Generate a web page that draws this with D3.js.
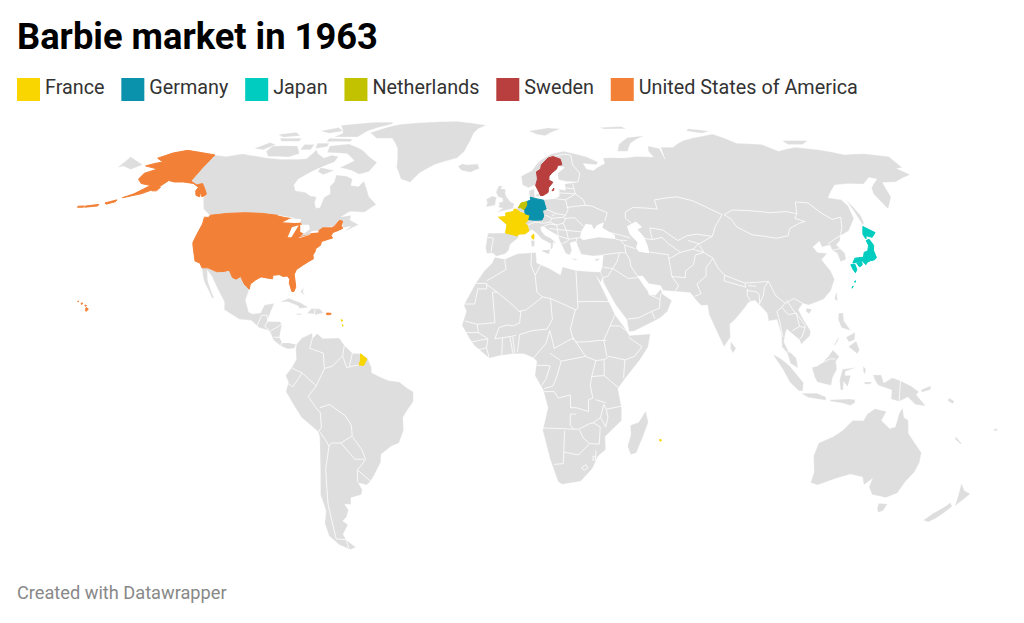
<!DOCTYPE html>
<html><head><meta charset="utf-8">
<style>html,body{margin:0;padding:0;background:#fff}svg{display:block}text{font-family:Roboto,sans-serif}</style>
<script src="https://cdn.jsdelivr.net/npm/d3@7"></script></head><body>
<svg id="c" width="1024" height="623"></svg>
<script>
const titleText="Barbie market in 1963";
const footerText="Created with Datawrapper";
const legendNames=["France","Germany","Japan","Netherlands","Sweden","United States of America"];
const legendColors=["#f9d600","#0a91ab","#00ccbf","#c2c200","#b93e3e","#f28036"];

// Grey land, [lon,lat] rings
const canada=[[-141,69.6],[-135,69],[-128,70],[-124,69.5],[-115,68.5],[-108,68],[-100,68],[-96,68.2],[-94,71.5],[-92,70],[-88,68.5],[-85,69.5],[-81.5,69],[-82,67],[-87,65],[-90,63.5],[-94,61],[-94.5,59],[-92.5,57],[-88,56.5],[-85,55.3],[-82.3,55],[-82,53],[-80.5,51.3],[-79,51.5],[-79,53],[-79,54.8],[-77,56],[-78.5,58.5],[-77.5,60],[-78,62.4],[-73,62],[-70,61],[-69.5,58.8],[-66,58.5],[-64.5,60.3],[-62,57.5],[-60,55],[-56,52.5],[-60,50],[-66,50.2],[-69,48.5],[-65,49],[-65,47.5],[-61,46],[-64,44.7],[-66,43.7],[-64,45.5],[-67,45],[-67.8,47],[-69.2,47.4],[-70.5,45.5],[-75,45],[-76.5,44],[-79,43.3],[-79,42.8],[-83,42],[-82.5,45.3],[-84.5,46.5],[-88.5,48.2],[-95,49],[-123,49],[-127,51],[-130,54.5],[-130,56],[-135,59.5],[-137,59],[-141,60.3]];
const arcticIslands=[
[[-80,73.7],[-72,71.5],[-67,69],[-62,66.8],[-64,63.5],[-68,62.7],[-72,64],[-78,65],[-73,67.5],[-78,70],[-88,70.5],[-89,73]],
[[-105,73],[-117,73],[-118,71],[-115,69],[-105,68.8],[-101,70]],
[[-125,72],[-120,74.3],[-116,73.5],[-120,71.5]],
[[-90,76.5],[-78,76.5],[-75,79],[-65,82],[-65,83],[-75,83],[-92,81.5],[-87,78]],
[[-92,76],[-80,75.7],[-80,74.6],[-92,74.6]],
[[-117,76],[-106,76],[-106,74.8],[-115,74.8]],
[[-96,74],[-90,74],[-90,72.7],[-95,72]],
[[-87,65],[-80,64],[-84,62.5],[-87,63.5]],
[[-102,73.5],[-97,73.5],[-97,71.5],[-102,71.5]],
[[-100,79],[-92,80.5],[-88,79],[-94,78]],
[[-120,77.5],[-112,78.5],[-108,77],[-116,76.4]]];
const greenland=[[-73,78.2],[-68,76],[-60,76],[-55,72],[-53,68],[-52,65],[-48.5,61],[-44,59.9],[-41,63],[-35,66],[-25,68.5],[-22,71],[-20,75],[-19,78],[-17,80],[-13,81.5],[-30,83.5],[-40,83.3],[-60,82],[-65,81],[-68,80]];
const mexicoCentral=[[-117.1,32.5],[-114.8,32.5],[-111,31.3],[-108.2,31.4],[-106.5,31.8],[-104.5,29.5],[-103,29],[-101.5,29.8],[-99.5,27.5],[-97.2,25.9],[-97.8,22.5],[-95.9,18.8],[-94.5,18.2],[-91.5,18.5],[-90.5,21],[-87,21.5],[-88,18.5],[-88.7,15.9],[-84,15.8],[-83.2,15],[-83.7,11],[-82.5,9.2],[-80,9.2],[-77.4,8.7],[-78,7.5],[-80.4,7.3],[-83,8.2],[-85.7,10],[-87.5,13],[-91.5,14],[-94.5,16.2],[-99,16.6],[-105,19.5],[-105.5,22],[-109,26],[-112.5,30],[-114.8,31.8],[-113.5,28.5],[-111,25],[-109.5,23],[-110.5,23.3],[-112.2,25.5],[-114.5,28],[-115.8,30]];
const caribbean=[
[[-84.9,21.9],[-82,23.1],[-77.5,21.8],[-74.2,20.2],[-77.5,19.9],[-78,20.7],[-82,22]],
[[-74.4,18.4],[-73,19.9],[-70,19.8],[-68.4,18.6],[-71,18],[-72,18.2]],
[[-78.3,18.4],[-76.3,18.2],[-76.5,17.9],[-78.2,18]],
[[-78,25],[-77,26.5],[-77,25],[-76,24]]];
const southAmerica=[[-77.4,8.7],[-75.5,10.7],[-72,12.2],[-71.5,10.8],[-70,12.1],[-68,10.6],[-62,10.7],[-60,8.5],[-57,6],[-54,5.8],[-51.5,4.5],[-50,1.5],[-50,0],[-48,-1],[-44,-2.5],[-40,-3],[-37,-5],[-35,-6],[-35,-9],[-37.5,-12],[-39,-14],[-39,-18],[-41,-22],[-44,-23],[-48,-25.5],[-48.5,-28],[-52,-32.5],[-53.5,-34],[-55,-35],[-58,-34.3],[-57,-36.5],[-57.7,-38],[-62,-39],[-62.5,-41],[-65,-41],[-64,-42.8],[-65.5,-45],[-67.5,-46.3],[-65.8,-47.5],[-69,-50.5],[-68.5,-52.3],[-65.5,-54.8],[-68,-55.5],[-72,-54],[-75,-51],[-75,-47],[-73,-43],[-73.5,-38],[-71.5,-30],[-70,-20],[-70.5,-18.3],[-76,-14],[-81,-6],[-80,-3],[-81,-1],[-78.8,1.5],[-77.2,4],[-77.5,7]];
const africa=[[-5.9,35.8],[-2,35.2],[3,36.9],[10,37.3],[10.2,34],[15,32.3],[19,30.3],[20,32.8],[25,31.7],[31,31.3],[34.2,31.2],[34.9,29.5],[34,28],[32.6,29.9],[35.5,24],[37,21],[38.5,18],[42.5,13],[43.3,11.5],[51,12],[50,8],[47,4],[41.5,-2],[39,-5],[40.5,-11],[40.7,-15],[35,-20],[35.5,-24],[32.9,-26],[31,-30],[27,-33.8],[20,-34.8],[18.4,-34],[15,-27],[12,-18],[13.8,-11],[12,-5.5],[9,-1],[9.7,3.5],[8.5,4.5],[5,5.8],[1,5.8],[-4,5.2],[-7.5,4.4],[-13,8.5],[-15,11],[-17.5,14.7],[-16,19],[-17,21],[-13,27.5],[-9.8,31.5],[-6.8,34]];
const madagascar=[[49.3,-12],[50.5,-15.5],[47,-25],[45,-25.6],[43.5,-23],[44.4,-19.5],[44,-16.5],[47,-15.5]];
const eurasia=[[-9,37],[-9.5,38.7],[-8.8,43.3],[-1.8,43.4],[-1.2,46],[-4.7,48.4],[-1.5,48.7],[-1.5,49.7],[1.5,50.5],[3.5,51.4],[4.7,53],[7,53.6],[8.5,54],[8.2,57],[10.5,57.7],[10.5,55],[12,54.2],[14,54],[19,54.4],[21,55.2],[21.3,57.5],[24,57.2],[24,59.3],[30,60],[25,60.2],[21.5,60.8],[21.5,63],[25,65],[22,65.8],[21.3,64.5],[19,63.2],[17.5,62],[17.2,60.7],[18.9,59.9],[16.7,58],[16.4,56.5],[14.3,55.5],[13,55.4],[11,59],[8,58],[5.5,59],[5,62],[10,64],[14,67.5],[20,70],[26,71],[31,70],[36,69],[41,67],[40,66],[34,66.5],[35,64.5],[38,64],[40,65],[44,66.5],[44,68.5],[54,68.5],[60,69],[68,68.8],[67,71],[68,73],[73,72],[73,68],[74,72.5],[80,72.5],[87,75],[100,77],[105,77.7],[113,74],[125,73.5],[130,71],[140,72.5],[150,71.5],[160,69.7],[170,70],[179.9,69],[179.9,65],[177,64.7],[179.9,62.5],[170,60],[164,59.8],[163,58],[162,55],[158,52],[156.7,51],[155.6,56],[157,58],[163,61],[160,61.5],[155,59.3],[148,59.4],[142,59],[135,54.7],[140,54],[141,52],[140,48],[135,44],[130.7,42.5],[129.7,41],[127.5,39.7],[129.4,37],[129,35.2],[126.5,34.4],[126.5,37],[125,38],[125,39.6],[121.5,39],[121.5,40.8],[118,39],[119,37.3],[122.5,37],[119.5,35],[121.5,31.5],[122,29],[119.5,25.5],[116,22.8],[113.5,22],[110,21],[108,21.5],[106,19.5],[107,17],[109.3,13],[109,11.5],[105.5,8.8],[105,10.2],[102,12.5],[100.8,13.5],[100,12],[99.3,9.5],[100.5,7],[103.4,4.5],[104,1.4],[101.3,2.8],[100.3,6],[98.5,8],[98.6,12],[97.6,16.5],[94.5,16],[94.3,18.5],[92,21],[90.5,22.5],[88,21.8],[86.8,20.5],[82.3,16.5],[80.2,15],[80,11],[77.5,8],[75.8,11.5],[73,18],[72.8,21],[70.5,20.8],[69,22.3],[67,24.8],[62,25.2],[57,25.5],[56.3,27],[52,27.6],[50,30],[48,30],[50.2,26.7],[51.5,25],[51.5,24.3],[54,24],[56.3,26],[56.5,24.5],[59.8,22.4],[57.8,19],[55,17],[52,15.7],[45,12.8],[43.3,12.7],[42.7,16.5],[39,21],[35,28],[34.9,29.5],[34.2,31.2],[35,32.5],[36,36.5],[32,36.2],[27.5,36.7],[26.3,39.5],[26,40.8],[23.5,40.3],[24,38],[23,36.5],[21.5,37],[19.5,41],[19,42.5],[15,44.5],[13.5,45.5],[12.3,45.3],[12.5,44],[14,42.5],[16,41.8],[18.4,40],[17,40.5],[16.6,38.8],[15.7,38],[16,40],[12.5,41.5],[10.3,43.5],[8.8,44.4],[6,43.1],[3.2,43],[3.2,41.8],[0,39.8],[-0.5,38],[-2,36.8],[-5.3,36.1],[-6.5,37]];
const chukotkaWest=[[-180,68.9],[-175,67.5],[-170,66],[-173,64.3],[-178,65.5],[-180,65]];
const europeIslands=[
[[-5.5,50],[1.3,51.2],[1.7,52.7],[0,53.5],[-1.5,55],[-2,56],[-2,57.6],[-4,57.7],[-3.2,58.6],[-5,58.6],[-6,56.5],[-5,55],[-3.2,54.5],[-3,53.4],[-4.5,53.2],[-4.5,52],[-5.2,51.7],[-3,51.3]],
[[-10,51.7],[-6.2,52.2],[-6,54],[-5.6,54.8],[-7.5,55.3],[-10,54.2],[-9.5,53]],
[[-24,65.5],[-22,64],[-18,63.4],[-14,64.7],[-15,66.3],[-20,66],[-22,66.4]],
[[10,79],[20,80.3],[27,80],[18,77],[14,77.5]],
[[52,71],[57,71],[60,74],[69,77],[60,76.3],[54,73.5]],
[[48,80.5],[60,81],[62,80],[50,79.8]],
[[12.5,38],[15.6,38.2],[15,36.7],[12.5,37.6]],
[[8.2,41],[9.7,41],[9.5,39.2],[8.5,39]],
[[23.5,35.5],[26.2,35.2],[24.8,34.9]],
[[32.4,35],[34.5,35.6],[33.8,34.8],[32.8,34.6]],
[[11,55.7],[12.5,56],[12.3,55],[11.2,55.2]]];
const asiaIslands=[
[[95,80],[105,79],[100,78],[93,79]],
[[137,75],[150,75],[145,73.5],[138,73.5]],
[[142,54.3],[143.5,49],[143,46.5],[142,46],[142,50]],
[[80,9.6],[81.8,7.5],[80.6,6],[79.8,7.5]],
[[121.5,25.2],[121,22],[120.1,23]],
[[109,20],[111,19.7],[109.7,18.3],[108.7,19]],
[[120.6,18.5],[122.2,18.5],[122,16],[124,13],[120.7,14],[120,16.5]],
[[122.5,8],[125.5,9.8],[126.5,7],[125.5,5.8],[124,7]],
[[122,11],[125.5,12.5],[125,10.2],[122.8,9.5]],
[[117.2,8.4],[119.5,11.3],[119,10],[117.6,8.4]],
[[109,1.5],[111,2],[113,3.2],[115,5],[116.8,7],[119,5],[117.7,3.5],[118,1],[116.5,-1.5],[116,-4],[114.5,-3.8],[111,-3],[110,-1.5]],
[[95.3,5.6],[98,4.2],[101,2],[103.8,-1],[106,-3.2],[105.8,-5.8],[104.5,-5.8],[101,-3],[98.5,1],[95.5,5]],
[[105.3,-6.5],[108.5,-6.5],[111,-6.5],[114.4,-7.7],[114.4,-8.7],[108,-7.8]],
[[119.5,-5.5],[119,-2.5],[120,1],[125,1.5],[121,0.3],[121,-1],[123,-1],[122,-4.5],[120.5,-2.9],[120.4,-5.5]],
[[116,-8.5],[123,-8.3],[125,-8.5],[125,-9.5],[123.5,-10.3],[120,-9.5],[116,-9]],
[[127.5,2],[128.5,1],[128,-0.8],[127.5,0.5]],
[[128,-3],[130.8,-3],[130,-3.7],[128,-3.6]]];
const oceania=[
[[131,-0.8],[134,-0.8],[135,-3.3],[138,-1.7],[141,-2.6],[145,-4.3],[147.8,-6],[147,-7],[150.8,-10.5],[147,-10],[144,-7.7],[141,-9.1],[138,-8.3],[138,-5.5],[133,-4],[132,-2.8]],
[[148.5,-5.5],[152,-4.2],[152,-5.3],[149,-6.2]],
[[159,-8],[161,-9],[160.5,-9.8],[158.5,-8.8]],
[[114,-22],[113.2,-26],[115,-31],[115,-34.3],[118,-35],[124,-33],[129,-31.7],[134,-32.5],[135.7,-35],[138,-33],[138,-35.6],[140.5,-38],[144,-38.5],[146.3,-39],[150,-37.5],[151,-34],[153,-31],[153.5,-28],[153,-25],[149.5,-22],[146.3,-19],[145.3,-15],[143.5,-14],[142.5,-11],[141.5,-13],[141,-17],[139,-17.5],[135.5,-15],[136.8,-12.2],[132.5,-11.3],[130,-13],[129,-15],[125,-15],[122,-18],[119,-20]],
[[144.7,-40.7],[148.3,-40.9],[148,-43],[146.5,-43.6],[145.3,-42.5]],
[[172.8,-34.5],[175.5,-36.8],[178.4,-37.7],[177,-39.5],[175.3,-41.6],[174.7,-39.8],[174,-38]],
[[172.7,-40.5],[174.3,-41.7],[172.8,-43.7],[171,-45.5],[169,-46.6],[166.5,-46],[168.4,-44],[171.2,-42]],
[[164,-20],[167,-22.3],[166.5,-22.3],[164,-20.8]],
[[177.3,-17.6],[178.6,-17.5],[178.6,-18.2],[177.3,-18.2]]];

// Water cut out of the land
const innerWaters=[
[[-92,46.8],[-89.5,48],[-85,47.8],[-84.7,46.6],[-87,46.5]],
[[-87.8,42],[-86.3,42],[-85,45.8],[-87.5,45.2]],
[[-84.5,46],[-81,46],[-80,44.6],[-81.7,43.2],[-83.5,43.7]],
[[-83.3,41.7],[-78.9,42.9],[-80,42.7],[-83,42.1]],
[[-79.7,43.3],[-76.2,43.5],[-76.4,44.2],[-79,43.9]],
[[47,45.5],[51,47],[53,45.3],[51,44.5],[53,42],[53.8,39],[53.8,37],[50,37.5],[49,38.5],[50,40.5],[47.5,43]],
[[28,41.5],[29,41.2],[35,42],[41.5,41.5],[41.5,42.7],[37,45],[38,46.8],[35,45.8],[33.5,44.5],[33,46],[30.5,46.2],[28.5,44],[27.8,42.5]]];

// Country borders
const bordersEurope=[
[[-8.8,42],[-6.5,41.7],[-7,39.5],[-7.4,37.2]],[[7.5,44],[7,45.8],[10,46.8],[13.7,46.5]],[[10,47.4],[10,46.8]],
[[13.7,46.5],[16.2,46.8],[17,48],[15,48.9],[13.8,48.7]],[[15,51],[18.8,49.6],[17,48.7]],[[14.2,53.9],[14.7,52],[15,51]],
[[18.8,49.6],[22.8,49],[24,50.8],[23.5,54],[19.5,54.4]],[[22.5,49],[22,48.4],[17,48]],[[16.2,46.8],[18.8,45.9],[21.5,46.5],[22.8,48]],
[[22,48],[26.5,48.2],[29.5,45.5]],[[22.5,44.2],[28.5,43.7]],[[21.5,46.5],[22.5,44.2]],[[22.5,44.2],[23,41.4],[26.3,41.8],[28,42]],
[[13.5,45.5],[16,46.2],[18.8,45.9],[19,44.5],[22.5,44.2]],[[15.8,44.8],[19,44.5]],[[19,42.5],[19,44.5]],[[19,42.5],[21,42],[23,41.4]],[[20.5,40],[23,41]],
[[26.3,41.8],[26.1,40.8]],[[23.5,51.5],[31.5,52.2],[34,52],[40,49.8],[38.5,47.2]],[[23.5,54],[28,56],[31,54],[31.5,52.2]],
[[21,56.3],[28,56]],[[24,58],[27.5,57.7]],[[27.5,59.4],[28,56]],[[30,60],[31.5,63],[29,66],[29,69.5],[26,69.9]],[[20.5,69],[26,69.9]],
[[2.5,51],[4.2,50],[6,49.5],[6,50.5]],[[3.4,51.4],[4.5,51.4],[6,51]]];
const bordersAsia=[
[[40,43.5],[47.5,41.8]],[[41.5,41.5],[43.5,41.1],[46,41]],[[43.5,41],[44.8,39.6],[48.5,38.5]],[[36,36.6],[42.3,37.2],[44.8,37.2]],[[44.8,37.2],[44.8,39.6]],
[[44.8,37.2],[46,35],[46,33],[48,30]],[[42.3,37.2],[41,34.5],[39,32.3]],[[39,32.3],[36,32.6],[35.5,32.8]],[[39,32.3],[37,30],[35,29.4]],[[39,32.3],[44.5,29.2],[48,29.5]],
[[43,16.6],[47,17],[52,19],[55,20],[55.5,22.7],[56,24.5]],[[52,19],[53,16.7]],[[51.5,24.3],[55.5,22.7]],
[[54,37.4],[61,36.6],[61,35],[61,31.5],[61,29.8],[63,27],[61.5,25.2]],[[61,29.8],[66,29.5],[66.5,31.5],[70,33.5],[71.5,36.5],[75,37.3]],[[61,35.3],[66,37.3],[71,38.3],[75,37.3]],
[[52.5,41.7],[56,41.3],[56,45],[61,44.3],[66,41],[70,42.5],[74,43],[80,42.3]],[[47.5,50],[51,51.5],[61,51],[61,54],[71,55],[77,53.7],[83,51],[87,49.2]],[[87,49.2],[82.5,45.5],[80,42.3]],[[47.5,50],[47,48],[49,46.5]],
[[56,41.3],[60,42],[62,40],[66,37.3]],[[70,41],[74,40],[73,39.5],[71,38.3]],[[74,40],[80,42.3]],[[75,37.3],[74,39.5]],
[[87.8,49.2],[90,47.7],[91,45.3],[96,42.8],[105,41.7],[110,42.5],[112,44.8],[117,46.5],[119.5,47],[116,48],[117.8,49.5]],[[87.8,49.2],[92,50.7],[98,50.5],[102,50.3],[107,49.8],[114,50.2],[117.8,49.5]],
[[117.8,49.5],[120,53.3],[125,53],[128,49.7],[131,47.7],[135,48.4],[133,45],[130.7,42.5]],[[124.4,40],[128,41.5],[130.7,42.5]],[[125,38],[128.5,38.5]],
[[75,37.3],[78,35.5],[79,32.5],[81,30.2],[88,27.8],[92,28],[97,28.3],[98.5,24],[101.5,21.5],[105,23],[108,21.5]],[[78,35.5],[74.5,32.5],[74,30],[70,27.5],[71,24.5],[68.5,23.7]],[[81,30.2],[80.3,28.5],[88,26.5],[88,27.8]],[[89,27],[92,26.8]],
[[88.5,26],[88,24],[89,22]],[[92,21.3],[92.5,24],[92,25],[88.5,25.5]],[[92,21.3],[94,24],[95,26.5],[97,28.3]],[[101.5,21.5],[100,20.3],[98,19],[98.5,16],[99,11]],[[100.2,6.5],[102,6.2]],
[[100,20.3],[102,18],[105,18.5],[105.5,14.3]],[[102.2,22.5],[104,19.5],[107.5,15],[107.5,14]],[[102.7,13],[105.5,14.3],[107.5,14],[106,11],[105,10.5]],
[[109.6,2],[114,3.5],[115.5,4.2],[117.5,4.2]],[[141,-2.6],[141,-9.1]]];
const bordersAfrica=[
[[-2,35],[-1.5,32],[-8.7,28.5]],[[-13,27.7],[-8.7,27.7],[-8.7,26],[-12,26],[-13,21.3],[-17,21.3]],[[-8.7,27.3],[-4.8,25],[-6.5,25],[-5.5,15.5],[-12,15],[-16.5,16]],
[[-4.8,25],[1,21],[3.3,19],[4,19]],[[3.3,19],[6,19.5],[12,23.5]],[[9.5,30],[10,25],[12,23.5]],[[8.3,37],[8,33.5],[9.5,30.2]],[[9.5,30.2],[11.5,33.2]],[[25,31.6],[25,22]],[[25,22],[25,20],[24,19.5]],[[24,19.5],[15,23],[12,23.5]],[[25,22],[36.8,22]],
[[15,23],[15.5,16.5],[13.5,13.5]],[[24,19.5],[22,13.5],[23,10]],[[4,19],[3.5,15.4],[1,14.5]],[[3.5,11.8],[8,13],[13.5,13.5]],[[2.7,6.3],[3.5,11.8]],[[8.5,4.5],[13,9],[14.5,13]],[[14.5,13],[15.5,9.5],[16,7.5]],
[[14.5,6],[18.5,3.5],[27.3,5]],[[16,7.5],[23,10.8],[27.3,5]],[[23.5,9.5],[27,9.5],[33,10],[35,10]],[[27.3,5],[31,3.7],[34,4],[35.8,5]],[[38.5,18],[36.5,14.5]],[[36.5,14.5],[34,10],[35,5]],[[36.5,14.5],[40,14.5],[42.5,12.8]],
[[43,11],[47.8,8],[45,5],[41.5,3.9]],[[41.5,3.9],[41,-1.7]],[[35.8,5],[41.5,3.9]],[[34,4],[34,0],[34,-1]],[[34,-1],[39,-4.6]],[[40.5,-10.5],[35,-11.5]],[[34.7,-9.5],[31,-8.5]],[[31,3.7],[29.5,-1.3],[29,-4],[30,-8],[28.5,-8.5]],[[29.5,-1.3],[34,-1]],
[[28.5,-8.5],[28.5,-12.2],[24,-11],[22,-11],[21.8,-7],[17.5,-8],[16,-6],[12.3,-6]],[[11.8,-17.3],[18,-17.5],[23.5,-17.7],[25,-17.7]],[[22,-13],[24,-13]],[[22,-13],[22,-16.5],[23.5,-17.7]],[[25,-17.8],[29,-16],[30.4,-15.7]],[[33,-14],[30.4,-15.7]],
[[35,-11.5],[34,-10]],[[34,-10],[33,-14],[35,-17],[35.7,-14],[35,-11.5]],[[30.4,-15.7],[33,-17],[33,-22.3]],[[33,-22.3],[29.5,-22.2],[27,-20.5],[25.5,-18]],[[20,-18.2],[20,-24.8]],[[20,-24.8],[20,-28.4],[16.5,-28.6]],[[20,-24.8],[25.5,-25.7],[29.4,-22.2]],[[32,-26.8],[31.9,-24.3]],
[[27,-29.6],[28.5,-28.7],[29.4,-29.7],[28,-30.5],[27,-29.6]],[[31,-26],[32,-26.5],[32,-27.3],[31,-27.3],[31,-26]],[[9.8,2.2],[13.3,2.2],[14.5,2],[13,-2],[11.5,-4]],[[18.5,3.5],[17,-1],[15.5,-4.3],[12.3,-5]],
[[-12,15],[-11.5,12.4],[-16.7,12.4]],[[-13.7,9.5],[-11,10],[-8,10.5],[-8.5,7.7]],[[-11.5,7],[-8.5,7.7],[-7.5,4.4]],[[-3,5],[-2.7,10.8]],[[1,6],[0,11]],[[1.7,6.2],[1,11]],[[-5.5,10.5],[-2.7,10.8],[2.2,11.5]],[[-5.5,10.5],[-4,14],[-1,14.8],[1,14.5]],[[-11.5,12.4],[-8,10.5]]];
const bordersAmericas=[
[[-71.5,11.5],[-72.5,7.5],[-67.5,6],[-67,1.2]],[[-67,1.2],[-70,-4.2]],[[-70,-4.2],[-75,-0.2]],[[-78.8,1.4],[-75,-0.2]],[[-75,-0.2],[-78.5,-4.5],[-80.3,-3.4]],[[-70,-4.2],[-73,-7.5],[-70.5,-11],[-69,-12.5]],[[-69,-12.5],[-69,-17],[-70,-18.3]],
[[-69,-11],[-65.5,-10],[-60,-13.5],[-58,-16.5],[-58,-19.8]],[[-58,-19.8],[-62.5,-22]],[[-62.5,-22],[-66,-22]],[[-70,-18.3],[-68,-21],[-67,-23]],[[-66,-22],[-67,-23],[-69.5,-30],[-70.5,-36],[-71.5,-41],[-72,-48],[-72.5,-52],[-68.5,-52.3]],[[-68.5,-52.5],[-68.5,-55]],
[[-62.5,-22],[-58,-27],[-54.5,-27]],[[-58,-20],[-55,-24],[-54.5,-25.5]],[[-54.5,-25.5],[-54,-27.2],[-57.6,-30.3]],[[-57.6,-30.3],[-53.3,-33.8]],[[-57.6,-30.3],[-58.3,-34]],[[-60,8.3],[-60.5,5.2]],[[-67,1.2],[-64,2],[-60.5,5.2]],[[-60.5,5.2],[-59,1.5],[-56.5,2]],[[-57,6],[-58,2]],[[-56.5,2],[-54.5,2.3]],
[[-92.2,14.5],[-91,17.8],[-89,17.8],[-88.5,15.9]],[[-88.5,15.9],[-89.4,14.3],[-87.7,13.3]],[[-87,13],[-83.2,15]],[[-85.7,11],[-83.7,10.9]],[[-83,8.3],[-82.7,9.5]],[[-77.4,8.7],[-77.8,7.3]],[[-71.7,19.8],[-71.7,18]]];

// Coloured countries
const france=[
[[2.5,51],[4.2,50],[6,49.5],[8.2,49],[7.6,47.6],[6,46.3],[7,45.8],[7.5,44],[6,43.1],[3.1,43],[3.1,42.4],[-1.8,43.4],[-1.2,46],[-4.7,48.4],[-1.6,48.6],[-1.8,49.7],[1.5,50.2],[1.6,50.9]],
[[8.6,42.5],[9.4,43],[9.5,42],[9.2,41.4],[8.7,41.7]],
[[-54,5.8],[-51.7,4.2],[-52.8,2.2],[-54.5,2.3],[-54,3.8]],
[[55.2,-20.9],[55.8,-21],[55.7,-21.4],[55.2,-21.3]],
[[-61.8,16.4],[-61.2,16.3],[-61.4,15.9]],[[-61.2,14.9],[-60.8,14.6],[-61,14.4]]];
const germany=[[[7,53.4],[8.8,54],[8.6,54.9],[10.9,54.4],[14.2,53.9],[14.7,52],[15,51],[13.4,50.5],[13.8,48.7],[13,47.5],[10,47.4],[7.6,47.6],[8.2,49],[6.2,49.5],[6,51],[7,52.3]]];
const japan=[
[[141.7,45.4],[145.2,43.5],[143,42],[141,42.5],[140.2,41.5],[140,43]],
[[141.4,41.4],[142,39.5],[141,38],[140.9,35.7],[139.8,35],[138,34.7],[136.8,34.3],[135.7,33.5],[135,34.6],[132.5,34.2],[131,34],[132.5,35.5],[136,35.8],[137,37.3],[138.7,37.8],[140,39.5],[140,41]],
[[132.5,34],[134.6,34.2],[134.2,33.3],[133,32.8]],
[[130,33.5],[131.6,33.6],[131.6,32],[130.7,31],[130.2,32]],
[[127.6,26.2],[128.3,26.8],[127.9,26.7]],[[129.2,28.2],[129.7,28.5],[129.4,28]]];
const netherlands=[[[3.4,51.4],[4.7,53],[7,53.4],[7,52.3],[6,51],[5.8,50.8],[4.5,51.4]]];
const sweden=[
[[11.2,58.8],[12.2,61],[12,63.5],[14,64.5],[14.5,66],[18,68.5],[20.5,69],[23.7,68],[24,66],[22,65.8],[21.3,64.5],[19,63.2],[17.5,62],[17.2,60.7],[18.9,59.9],[16.7,58],[16.4,56.5],[14.3,55.5],[13,55.4],[12.5,56.5]],
[[18.1,57],[19,57.9],[18.9,57.2]]];
const usa=[
[[-124.7,48.4],[-123,48.3],[-122.8,49],[-95.2,49],[-94.6,48.7],[-92,48.3],[-89.5,48],[-84.8,46.7],[-84,46],[-82.5,45.3],[-82.5,43],[-83.1,42.2],[-79,42.8],[-79,43.4],[-76.5,44],[-75,45],[-71.5,45],[-70.5,45.5],[-69.2,47.4],[-67.8,47.1],[-67.8,45.7],[-67,44.8],[-69,44],[-70.5,43.5],[-70.8,42.5],[-70,41.8],[-71.5,41.4],[-74,40.7],[-74,39.5],[-75.5,38.5],[-75.5,37.5],[-76,36.5],[-75.5,35.3],[-77,34.5],[-79,33.3],[-81,32],[-81.5,30.5],[-80.5,28],[-80,26.5],[-80.4,25.2],[-81.2,25.2],[-82.7,27.8],[-82.8,29],[-84,30],[-85.5,29.8],[-87,30.4],[-89.5,30.2],[-89.3,29.1],[-91,29.3],[-93.8,29.7],[-95.5,28.8],[-97.2,27.5],[-97.2,25.9],[-99.5,27.5],[-101.5,29.8],[-103,29],[-104.5,29.5],[-106.5,31.8],[-108.2,31.4],[-111,31.3],[-114.8,32.5],[-117.1,32.5],[-118.5,34],[-120.6,34.6],[-122,36.8],[-123.8,39.5],[-124.3,40.4],[-124.2,43],[-124,46.2]],
[[-141,69.6],[-148,70.4],[-156.5,71.3],[-162,70.3],[-166.5,68.4],[-162,67],[-165,66.5],[-168,65.6],[-161,64.5],[-165,63],[-165,61],[-162,59.5],[-157,58.8],[-161,56],[-164.5,54.7],[-158,56],[-153,58],[-151,60.5],[-148,60],[-144,60],[-139,59.5],[-135,58],[-131,55],[-130,55.5],[-130,56],[-135,59.5],[-137,59],[-141,60.3]],
[[-135.5,58],[-133,56.5],[-132,55],[-134,55.5],[-135.5,57]],
[[-154.5,58],[-152,58.2],[-152.5,57],[-154.5,57]],
[[-170,53],[-166,54],[-166,53.4],[-169,52.6]],[[-177,52],[-172,52.5],[-172,52],[-177,51.6]],[[-180,51.9],[-177.5,52],[-177.5,51.6],[-180,51.6]],
[[-156,20.2],[-155,19.7],[-155.7,19],[-156,19.6]],[[-158.2,21.6],[-157.7,21.6],[-157.8,21.2],[-158.2,21.3]],[[-156.7,21],[-156,20.8],[-156.4,20.6]],[[-159.7,22.2],[-159.3,22.2],[-159.5,21.9]],
[[-67.2,18.5],[-65.6,18.4],[-65.8,18],[-67.2,18]]];

const greyRings=[canada,greenland,mexicoCentral,southAmerica,africa,madagascar,eurasia,chukotkaWest,...arcticIslands,...caribbean,...europeIslands,...asiaIslands,...oceania];
const colouredRings=[france,germany,japan,netherlands,sweden,usa];
const borderLines=[...bordersEurope,...bordersAsia,...bordersAfrica,...bordersAmericas];

const svg=d3.select("#c");
const projection=d3.geoNaturalEarth1().scale(182.3).translate([510,372.4]).precision(0.2);
const geo=d3.geoPath(projection);

// d3.geo fills the smaller side only when a ring winds the right way
function poly(ring){
  const r=[...ring,ring[0]];
  const f={type:"Polygon",coordinates:[r]};
  if(d3.geoArea(f)>2*Math.PI) f.coordinates=[[...r].reverse()];
  return f;
}
const LAND="#dedede";
svg.append("g").selectAll("path").data(greyRings).join("path")
  .attr("d",d=>geo(poly(d))).attr("fill",LAND).attr("stroke","#fff").attr("stroke-width",0.3);
svg.append("g").selectAll("path").data(borderLines).join("path")
  .attr("d",d=>geo({type:"LineString",coordinates:d})).attr("fill","none")
  .attr("stroke","#fff").attr("stroke-width",0.8).attr("stroke-linejoin","round");
legendNames.forEach((name,i)=>{
  svg.append("g").selectAll("path").data(colouredRings[i]).join("path")
    .attr("d",d=>geo(poly(d))).attr("fill",legendColors[i]).attr("stroke",legendColors[i]).attr("stroke-width",1).attr("stroke-linejoin","round")
    .attr("data-name",name);
});
svg.append("g").selectAll("path").data(innerWaters).join("path")
  .attr("d",d=>geo(poly(d))).attr("fill","#fff");

svg.append("text").attr("x",17).attr("y",49).attr("font-size",36.3).attr("font-weight",700).attr("fill","#000").text(titleText);
let lx=17;
legendNames.forEach((name,i)=>{
  svg.append("rect").attr("x",lx).attr("y",78).attr("width",23).attr("height",23).attr("fill",legendColors[i]);
  const t=svg.append("text").attr("x",lx+28).attr("y",94).attr("font-size",19.8).attr("fill","#333").text(name);
  lx+=28+t.node().getComputedTextLength()+16.8;
});
svg.append("text").attr("x",17).attr("y",599).attr("font-size",18.2).attr("fill","#888").text(footerText);
</script></body></html>
